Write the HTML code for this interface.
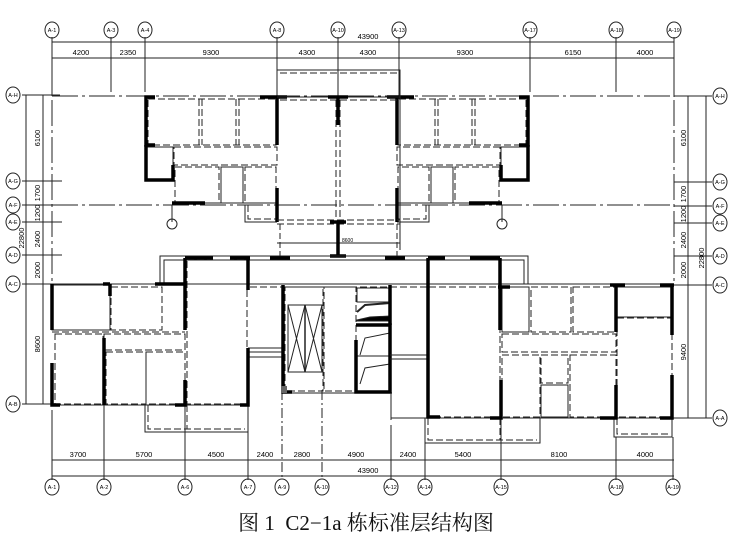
<!DOCTYPE html>
<html><head><meta charset="utf-8"><style>
html,body{margin:0;padding:0;background:#fff;}
svg{display:block;}
text{font-family:"Liberation Sans",sans-serif;}
</style></head><body>
<svg width="736" height="552" viewBox="0 0 736 552" xmlns="http://www.w3.org/2000/svg">
<defs>
<g id="topunit" fill="none" stroke="#222">
  <rect x="148" y="99" width="128" height="46" stroke-dasharray="7 3"/>
  <line x1="199" y1="99" x2="199" y2="145" stroke-dasharray="7 3"/>
  <line x1="202" y1="99" x2="202" y2="145" stroke-dasharray="7 3"/>
  <line x1="236" y1="99" x2="236" y2="145" stroke-dasharray="7 3"/>
  <line x1="239" y1="99" x2="239" y2="145" stroke-dasharray="7 3"/>
  <rect x="147" y="147" width="26" height="33"/>
  <rect x="174" y="147" width="103" height="18" stroke-dasharray="7 3"/>
  <rect x="175" y="167" width="44" height="36" stroke-dasharray="7 3"/>
  <rect x="221" y="167" width="22" height="36"/>
  <rect x="245" y="167" width="31" height="36" stroke-dasharray="7 3"/>
  <path d="M245 205 V222 H277"/>
  <path d="M248 205 V219 H277" stroke-dasharray="7 3"/>
  <line x1="172" y1="203" x2="277" y2="203"/>
  <g stroke="#000" stroke-width="3.5">
    <path d="M155 97 H146 V145 H155"/>
    <path d="M146 145 V180 H173 V165"/>
    <path d="M172 203 H205"/>
    <path d="M260 97 H287"/>
    <path d="M277 97 V145"/>
    <path d="M277 188 V222"/>
  </g>
  <line x1="172" y1="205" x2="172" y2="222" stroke-width="1"/>
  <circle cx="172" cy="224" r="5"/>
</g>
</defs>

<g fill="none" stroke="#222" stroke-width="1">
  <line x1="52" y1="42" x2="674" y2="42"/>
  <line x1="52" y1="58" x2="674" y2="58"/>
  <g>
    <line x1="52" y1="37" x2="52" y2="96"/>
    <line x1="111" y1="37" x2="111" y2="92"/>
    <line x1="145" y1="37" x2="145" y2="92"/>
    <line x1="277" y1="37" x2="277" y2="97"/>
    <line x1="338" y1="37" x2="338" y2="97"/>
    <line x1="399" y1="37" x2="399" y2="97"/>
    <line x1="530" y1="37" x2="530" y2="92"/>
    <line x1="616" y1="37" x2="616" y2="92"/>
    <line x1="674" y1="37" x2="674" y2="97"/>
  </g>
  <g>
    <ellipse cx="52" cy="30" rx="7" ry="8"/><ellipse cx="111" cy="30" rx="7" ry="8"/><ellipse cx="145" cy="30" rx="7" ry="8"/>
    <ellipse cx="277" cy="30" rx="7" ry="8"/><ellipse cx="338" cy="30" rx="7" ry="8"/><ellipse cx="399" cy="30" rx="7" ry="8"/>
    <ellipse cx="530" cy="30" rx="7" ry="8"/><ellipse cx="616" cy="30" rx="7" ry="8"/><ellipse cx="674" cy="30" rx="7" ry="8"/>
  </g>
  <line x1="52" y1="460" x2="674" y2="460"/>
  <line x1="52" y1="476" x2="674" y2="476"/>
  <g>
    <line x1="52" y1="410" x2="52" y2="480"/>
    <line x1="104" y1="405" x2="104" y2="480"/>
    <line x1="185" y1="405" x2="185" y2="480"/>
    <line x1="248" y1="430" x2="248" y2="480"/>
    <line x1="282" y1="390" x2="282" y2="480" stroke-dasharray="10 3 2 3"/>
    <line x1="322" y1="390" x2="322" y2="480" stroke-dasharray="10 3 2 3"/>
    <line x1="391" y1="425" x2="391" y2="480"/>
    <line x1="425" y1="440" x2="425" y2="480"/>
    <line x1="501" y1="418" x2="501" y2="480"/>
    <line x1="616" y1="437" x2="616" y2="480"/>
    <line x1="673" y1="437" x2="673" y2="480"/>
  </g>
  <g>
    <ellipse cx="52" cy="487" rx="7" ry="8"/><ellipse cx="104" cy="487" rx="7" ry="8"/><ellipse cx="185" cy="487" rx="7" ry="8"/>
    <ellipse cx="248" cy="487" rx="7" ry="8"/><ellipse cx="282" cy="487" rx="7" ry="8"/><ellipse cx="322" cy="487" rx="7" ry="8"/>
    <ellipse cx="391" cy="487" rx="7" ry="8"/><ellipse cx="425" cy="487" rx="7" ry="8"/><ellipse cx="501" cy="487" rx="7" ry="8"/>
    <ellipse cx="616" cy="487" rx="7" ry="8"/><ellipse cx="673" cy="487" rx="7" ry="8"/>
  </g>
  <line x1="26" y1="95" x2="26" y2="404"/>
  <line x1="43" y1="95" x2="43" y2="404"/>
  <g>
    <line x1="22" y1="95" x2="60" y2="95"/><line x1="22" y1="181" x2="62" y2="181"/>
    <line x1="22" y1="205" x2="62" y2="205"/><line x1="22" y1="222" x2="62" y2="222"/>
    <line x1="22" y1="255" x2="62" y2="255"/><line x1="22" y1="284" x2="52" y2="284"/>
    <line x1="22" y1="404" x2="52" y2="404"/>
  </g>
  <g>
    <ellipse cx="13" cy="95" rx="7" ry="8"/><ellipse cx="13" cy="181" rx="7" ry="8"/><ellipse cx="13" cy="205" rx="7" ry="8"/>
    <ellipse cx="13" cy="222" rx="7" ry="8"/><ellipse cx="13" cy="255" rx="7" ry="8"/><ellipse cx="13" cy="284" rx="7" ry="8"/>
    <ellipse cx="13" cy="404" rx="7" ry="8"/>
  </g>
  <line x1="688" y1="96" x2="688" y2="418"/>
  <line x1="706" y1="96" x2="706" y2="418"/>
  <g>
    <line x1="674" y1="96" x2="712" y2="96"/><line x1="674" y1="182" x2="712" y2="182"/>
    <line x1="674" y1="206" x2="712" y2="206"/><line x1="674" y1="223" x2="712" y2="223"/>
    <line x1="674" y1="256" x2="712" y2="256"/><line x1="674" y1="285" x2="712" y2="285"/>
    <line x1="674" y1="418" x2="712" y2="418"/>
  </g>
  <g>
    <ellipse cx="720" cy="96" rx="7" ry="8"/><ellipse cx="720" cy="182" rx="7" ry="8"/><ellipse cx="720" cy="206" rx="7" ry="8"/>
    <ellipse cx="720" cy="223" rx="7" ry="8"/><ellipse cx="720" cy="256" rx="7" ry="8"/><ellipse cx="720" cy="285" rx="7" ry="8"/>
    <ellipse cx="720" cy="418" rx="7" ry="8"/>
  </g>
  <g stroke-dasharray="26 4 3 4">
    <line x1="52" y1="96" x2="674" y2="96"/>
    <line x1="52" y1="205" x2="674" y2="205"/>
    <line x1="52" y1="100" x2="52" y2="284"/>
    <line x1="674" y1="100" x2="674" y2="285"/>
  </g>
</g>

<use href="#topunit"/>
<use href="#topunit" transform="translate(674,0) scale(-1,1)"/>

<g fill="none" stroke="#222">
  <path d="M277 70 H400 V250"/>
  <path d="M280 73 H397" stroke-dasharray="7 3"/>
  <line x1="277" y1="97" x2="400" y2="97"/>
  <line x1="280" y1="100" x2="397" y2="100" stroke-dasharray="7 3"/>
  <line x1="336" y1="100" x2="336" y2="220" stroke-dasharray="7 3"/>
  <line x1="340" y1="100" x2="340" y2="220" stroke-dasharray="7 3"/>
  <line x1="277" y1="220" x2="400" y2="220" stroke-dasharray="7 3"/>
  <line x1="277" y1="224" x2="400" y2="224" stroke-dasharray="7 3"/>
  <line x1="277" y1="243" x2="400" y2="243"/>
  <line x1="280" y1="224" x2="280" y2="256" stroke-dasharray="6 3"/>
  <line x1="397" y1="224" x2="397" y2="256" stroke-dasharray="6 3"/>
  <g stroke="#000" stroke-width="3.5">
    <path d="M338 97 V125"/><path d="M328 97 H348"/>
    <path d="M338 222 V256"/><path d="M330 222 H346"/><path d="M330 256 H346"/>
  </g>
  <text x="342" y="242" font-size="5" stroke="none" fill="#000">8600</text>
</g>

<g fill="none" stroke="#222">
  <path d="M160 284 V256 H528 V284"/>
  <path d="M164 284 V260 H524 V284"/>
  <line x1="250" y1="260" x2="428" y2="260" stroke-dasharray="7 3"/>
  <line x1="52" y1="284" x2="674" y2="284"/>
  <line x1="250" y1="287" x2="428" y2="287" stroke-dasharray="7 3"/>
  <g stroke="#000" stroke-width="3.5">
    <path d="M185 258 H213"/><path d="M230 258 H250"/>
    <path d="M270 258 H290"/><path d="M385 258 H405"/>
    <path d="M428 258 H445"/><path d="M470 258 H500"/>
  </g>
</g>

<g fill="none" stroke="#222">
  <rect x="52" y="285" width="58" height="45"/>
  <rect x="111" y="287" width="51" height="43" stroke-dasharray="7 3"/>
  <line x1="52" y1="332" x2="185" y2="332" stroke-dasharray="7 3"/>
  <rect x="104" y="334" width="81" height="16" stroke-dasharray="7 3"/>
  <rect x="106" y="352" width="40" height="52" stroke-dasharray="7 3"/>
  <rect x="146" y="352" width="39" height="52" stroke-dasharray="7 3"/>
  <rect x="55" y="334" width="48" height="70" stroke-dasharray="7 3"/>
  <line x1="52" y1="405" x2="248" y2="405"/>
  <rect x="187" y="260" width="60" height="144" stroke-dasharray="7 3"/>
  <path d="M145 405 V432 H248 V405"/>
  <path d="M148 405 V429 H245" stroke-dasharray="7 3"/>
  <line x1="187" y1="405" x2="187" y2="429" stroke-dasharray="7 3"/>
  <line x1="248" y1="348" x2="283" y2="348"/><line x1="248" y1="352" x2="283" y2="352"/><line x1="248" y1="357" x2="283" y2="357"/>
  <g stroke="#000" stroke-width="3.5">
    <path d="M52 284 V330"/><path d="M52 363 V405 H60"/>
    <path d="M104 338 V405"/>
    <path d="M103 284 H110"/><path d="M110 284 V296"/>
    <path d="M155 284 H185 V330"/><path d="M185 380 V405 H175"/>
    <path d="M185 258 V285"/><path d="M248 258 V290"/><path d="M248 348 V405 H240"/>
  </g>
</g>

<g fill="none" stroke="#222">
  <rect x="285" y="287" width="38" height="104" stroke-dasharray="7 3"/>
  <rect x="288" y="305" width="34" height="67"/>
  <path d="M288 305 L305 372 L322 305 M288 372 L305 305 L322 372"/>
  <line x1="305" y1="305" x2="305" y2="372" stroke-width="1.5"/>
  <rect x="324" y="287" width="32" height="104" stroke-dasharray="7 3"/>
  <line x1="283" y1="393" x2="392" y2="393"/>
  <rect x="357" y="288" width="33" height="14"/>
  <path d="M357 312 L365 305 L390 303" stroke-width="2"/>
  <path d="M357 320 L370 317 L390 316 V321 H357 Z" fill="#000"/>
  <path d="M360 355 L365 338 L390 333"/>
  <path d="M360 384 L365 368 L390 364"/>
  <line x1="356" y1="356" x2="390" y2="356"/>
  <g stroke="#000" stroke-width="3.5">
    <path d="M283 285 V392 H292"/>
    <path d="M356 325 H390 V392 H356 V340"/>
    <path d="M390 285 V325"/>
  </g>
  <rect x="281" y="386" width="6" height="7" fill="#666" stroke="none"/>
  <line x1="390" y1="355" x2="428" y2="355"/><line x1="390" y1="359" x2="428" y2="359"/>
  <line x1="391" y1="393" x2="391" y2="420"/>
</g>

<g fill="none" stroke="#222">
  <rect x="429" y="287" width="71" height="130" stroke-dasharray="7 3"/>
  <path d="M425 418 V443 H540 V418"/>
  <path d="M428 418 V440 H537" stroke-dasharray="7 3"/>
  <line x1="500" y1="418" x2="500" y2="440" stroke-dasharray="7 3"/>
  <line x1="391" y1="418" x2="616" y2="418"/>
  <rect x="502" y="287" width="27" height="45"/>
  <rect x="531" y="287" width="40" height="45" stroke-dasharray="7 3"/>
  <rect x="573" y="287" width="43" height="45" stroke-dasharray="7 3"/>
  <rect x="502" y="334" width="114" height="18" stroke-dasharray="7 3"/>
  <rect x="502" y="355" width="38" height="62" stroke-dasharray="7 3"/>
  <rect x="541" y="355" width="27" height="28" stroke-dasharray="7 3"/>
  <rect x="541" y="385" width="27" height="32"/>
  <rect x="570" y="355" width="46" height="62" stroke-dasharray="7 3"/>
  <rect x="617" y="287" width="55" height="30"/>
  <rect x="617" y="318" width="55" height="99" stroke-dasharray="7 3"/>
  <path d="M614 418 V437 H672 V418"/>
  <path d="M617 418 V434 H669" stroke-dasharray="7 3"/>
  <line x1="616" y1="418" x2="674" y2="418"/>
  <g stroke="#000" stroke-width="3.5">
    <path d="M428 258 V417 H440"/>
    <path d="M500 258 V330"/><path d="M501 380 V418 H490"/>
    <path d="M498 287 H510"/>
    <path d="M616 285 V332"/><path d="M616 385 V418 H600"/>
    <path d="M672 285 V335"/><path d="M672 375 V418 H660"/>
    <path d="M610 285 H625"/><path d="M660 285 H674"/>
  </g>
</g>

<g fill="#000" font-size="7.5" text-anchor="middle">
  <text x="368" y="39">43900</text>
  <text x="81" y="55">4200</text><text x="128" y="55">2350</text><text x="211" y="55">9300</text>
  <text x="307" y="55">4300</text><text x="368" y="55">4300</text><text x="465" y="55">9300</text>
  <text x="573" y="55">6150</text><text x="645" y="55">4000</text>
  <text x="78" y="457">3700</text><text x="144" y="457">5700</text><text x="216" y="457">4500</text>
  <text x="265" y="457">2400</text><text x="302" y="457">2800</text><text x="356" y="457">4900</text>
  <text x="408" y="457">2400</text><text x="463" y="457">5400</text><text x="559" y="457">8100</text>
  <text x="645" y="457">4000</text>
  <text x="368" y="473">43900</text>
  <g transform="rotate(-90)">
    <text x="-138" y="40">6100</text><text x="-193" y="40">1700</text><text x="-213" y="40">1200</text>
    <text x="-239" y="40">2400</text><text x="-270" y="40">2000</text><text x="-344" y="40">8600</text>
    <text x="-238" y="24">22800</text>
    <text x="-138" y="686">6100</text><text x="-194" y="686">1700</text><text x="-214" y="686">1200</text>
    <text x="-240" y="686">2400</text><text x="-270" y="686">2000</text><text x="-352" y="686">9400</text>
    <text x="-258" y="704">22800</text>
  </g>
</g>
<g fill="#000" font-size="5.5" text-anchor="middle">
  <text x="52" y="32">A-1</text><text x="111" y="32">A-3</text><text x="145" y="32">A-4</text><text x="277" y="32">A-8</text>
  <text x="338" y="32">A-10</text><text x="399" y="32">A-13</text><text x="530" y="32">A-17</text><text x="616" y="32">A-18</text><text x="674" y="32">A-19</text>
  <text x="52" y="489">A-1</text><text x="104" y="489">A-2</text><text x="185" y="489">A-6</text><text x="248" y="489">A-7</text>
  <text x="282" y="489">A-9</text><text x="322" y="489">A-10</text><text x="391" y="489">A-12</text><text x="425" y="489">A-14</text>
  <text x="501" y="489">A-15</text><text x="616" y="489">A-18</text><text x="673" y="489">A-19</text>
  <text x="13" y="97">A-H</text><text x="13" y="183">A-G</text><text x="13" y="207">A-F</text><text x="13" y="224">A-E</text>
  <text x="13" y="257">A-D</text><text x="13" y="286">A-C</text><text x="13" y="406">A-B</text>
  <text x="720" y="98">A-H</text><text x="720" y="184">A-G</text><text x="720" y="208">A-F</text><text x="720" y="225">A-E</text>
  <text x="720" y="258">A-D</text><text x="720" y="287">A-C</text><text x="720" y="420">A-A</text>
</g>

<text x="366" y="530" text-anchor="middle" font-size="21" style="font-family:'Liberation Serif','Noto Serif CJK SC',serif" fill="#111">图&#160;1&#160;&#160;C2−1a&#160;栋标准层结构图</text>
</svg>
</body></html>
